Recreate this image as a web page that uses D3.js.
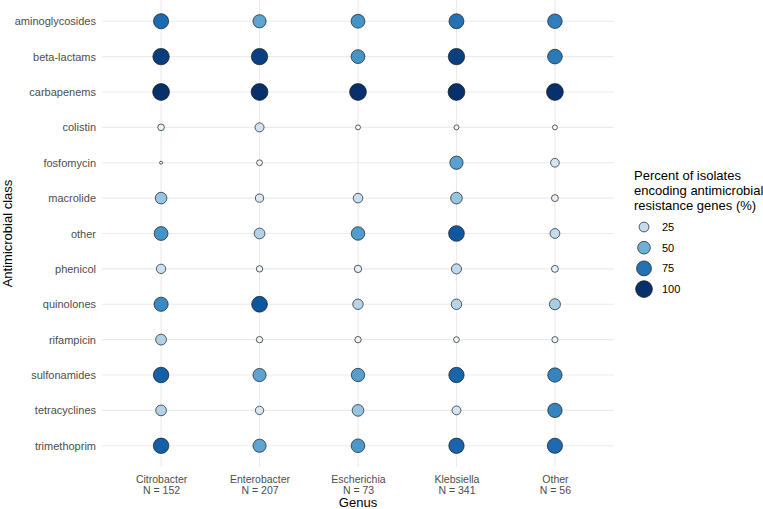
<!DOCTYPE html>
<html>
<head>
<meta charset="utf-8">
<script src="https://cdn.jsdelivr.net/npm/d3@7"></script>
<style>
  html, body { margin: 0; padding: 0; background: #fff; }
  svg { display: block; font-family: "Liberation Sans", Arial, sans-serif; }
</style>
</head>
<body>
<svg id="chart" width="763" height="509"></svg>
<script>
const genera = ["Citrobacter", "Enterobacter", "Escherichia", "Klebsiella", "Other"];
const genusN = [152, 207, 73, 341, 56];
const classes = ["aminoglycosides", "beta-lactams", "carbapenems", "colistin", "fosfomycin",
  "macrolide", "other", "phenicol", "quinolones", "rifampicin", "sulfonamides", "tetracyclines", "trimethoprim"];
// percent of isolates, per class, in genus order (null = no point)
const pctCitrobacter  = [78, 95, 100, 8, 1, 40, 62, 22, 66, 33, 82, 32, 82];
const pctEnterobacter = [55, 94, 100, 20, 5, 15, 32, 7, 86, 7, 55, 16, 55];
const pctEscherichia  = [62, 62, 100, 3, null, 24, 58, 11, 30, 7, 57, 40, 60];
const pctKlebsiella   = [75, 94, 100, 3, 56, 40, 85, 27, 30, 5, 80, 19, 80];
const pctOther        = [70, 72, 100, 3, 18, 9, 25, 9, 35, 6, 68, 68, 78];
const legendValues = [25, 50, 75, 100];

const seriesByGenus = [pctCitrobacter, pctEnterobacter, pctEscherichia, pctKlebsiella, pctOther];
const data = [];
genera.forEach((g, gi) => {
  classes.forEach((c, ci) => {
    const v = seriesByGenus[gi][ci];
    if (v !== null && v !== undefined) data.push({ genus: g, cls: c, value: v });
  });
});

const svg = d3.select("#chart");
const margin = { left: 102, right: 149, top: 0, bottom: 42 };
const W = 763, H = 509;
const x0 = margin.left, x1 = W - margin.right, y0 = margin.top, y1 = H - margin.bottom;

const x = d3.scalePoint().domain(genera).range([x0, x1]).padding(0.6);
const y = d3.scalePoint().domain(classes).range([y0, y1]).padding(0.6);

const vmin = 1, vmax = 100;
const rScale = d3.scaleSqrt().domain([0, vmax - vmin]).range([1.5, 8.4]);
const r = v => rScale(Math.max(0, v - vmin));
const color = d3.scaleSequential(d3.interpolateBlues).domain([vmin, vmax]);

// grid
const grid = svg.append("g");
grid.selectAll("line.h").data(classes).join("line")
  .attr("x1", x0).attr("x2", x1)
  .attr("y1", d => y(d)).attr("y2", d => y(d))
  .attr("stroke", "#ebebeb").attr("stroke-width", 1.1);
grid.selectAll("line.v").data(genera).join("line")
  .attr("x1", d => x(d)).attr("x2", d => x(d))
  .attr("y1", y0).attr("y2", y1)
  .attr("stroke", "#ebebeb").attr("stroke-width", 1.1);

// axes (labels only)
const yAxis = svg.append("g").attr("transform", `translate(${x0},0)`)
  .call(d3.axisLeft(y).tickSize(0).tickPadding(6));
yAxis.select(".domain").remove();
yAxis.selectAll("text").attr("fill", "#4d4d4d").style("font-size", "11px")
  .style("font-family", "'Liberation Sans', Arial, sans-serif");

const xAxis = svg.append("g").attr("transform", `translate(0,${y1})`)
  .call(d3.axisBottom(x).tickSize(0).tickFormat(d => d));
xAxis.select(".domain").remove();
xAxis.selectAll(".tick text").attr("fill", "#4d4d4d").style("font-size", "10.5px")
  .style("font-family", "'Liberation Sans', Arial, sans-serif").attr("dy", null).attr("y", 16);
xAxis.selectAll(".tick").append("text")
  .attr("fill", "#4d4d4d").style("font-size", "10.5px").attr("text-anchor", "middle")
  .style("font-family", "'Liberation Sans', Arial, sans-serif")
  .attr("y", 27).text(d => "N = " + genusN[genera.indexOf(d)]);

// axis titles
svg.append("text").attr("x", (x0 + x1) / 2).attr("y", 507)
  .attr("text-anchor", "middle").style("font-size", "13px").attr("fill", "#000").text("Genus");
svg.append("text").attr("transform", `translate(12,${(y0 + y1) / 2}) rotate(-90)`)
  .attr("text-anchor", "middle").style("font-size", "13px").attr("fill", "#000").text("Antimicrobial class");

// points
svg.append("g").selectAll("circle").data(data).join("circle")
  .attr("cx", d => x(d.genus)).attr("cy", d => y(d.cls))
  .attr("r", d => r(d.value))
  .attr("fill", d => color(d.value))
  .attr("stroke", "#1a1a1a").attr("stroke-width", 0.7);

// legend
const lg = svg.append("g").attr("transform", "translate(634,0)");
const titleLines = ["Percent of isolates", "encoding antimicrobial", "resistance genes (%)"];
lg.selectAll("text.title").data(titleLines).join("text")
  .attr("x", 0).attr("y", (d, i) => 180 + i * 15)
  .style("font-size", "13px").attr("fill", "#000").text(d => d);
const keys = lg.selectAll("g.key").data(legendValues).join("g")
  .attr("transform", (d, i) => `translate(10,${227 + i * 20.7})`);
keys.append("circle").attr("r", d => r(d)).attr("fill", d => color(d))
  .attr("stroke", "#1a1a1a").attr("stroke-width", 0.7);
keys.append("text").attr("x", 18).attr("y", 4).style("font-size", "11px")
  .attr("fill", "#000").text(d => d);
</script>
</body>
</html>
